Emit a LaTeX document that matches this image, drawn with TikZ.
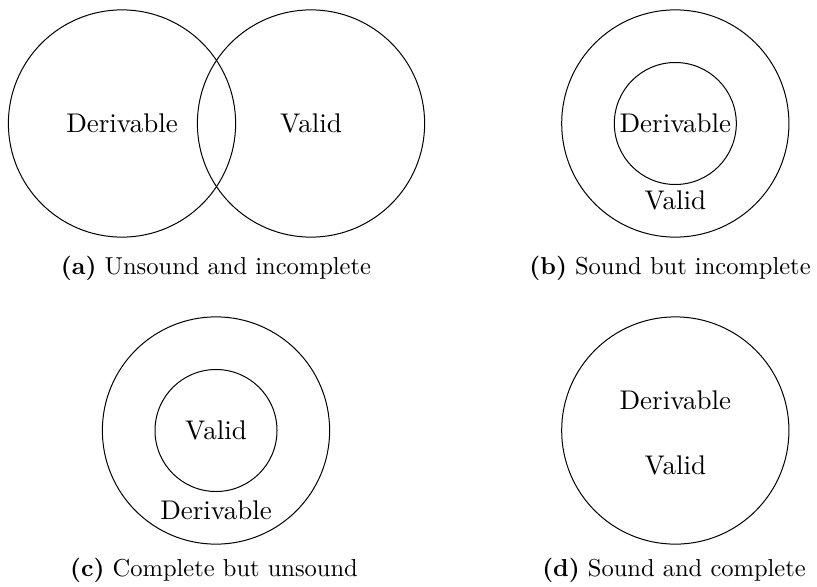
\documentclass[tikz,border=0pt]{standalone}

\begin{document}
\begin{tikzpicture}[x=0.4pt,y=-0.4pt,
  every node/.style={font=\fontsize{10.8}{13}\selectfont},
  outer/.style={draw, circle, inner sep=0pt, minimum size=90.9pt},
  inner/.style={draw, circle, inner sep=0pt, minimum size=48.8pt},
  caption/.style={font=\fontsize{9.8}{12}\selectfont}]

  \useasboundingbox (0,0) rectangle (817,586);

  % (a) two overlapping sets
  \node[outer] (derA) at (122,123.5) {Derivable};
  \node[outer] (valA) at (311,123.5) {Valid};
  \node[caption] (capA) at (216,268) {\textbf{(a)} Unsound and incomplete};

  % (b) derivable inside valid
  \node[outer] (valB) at (675.3,123.5) {};
  \node[inner] (derB) at (675.3,123.5) {Derivable};
  \node (labB) at (675.3,200) {Valid};
  \node[caption] (capB) at (670,268) {\textbf{(b)} Sound but incomplete};

  % (c) valid inside derivable
  \node[outer] (derC) at (216,430.5) {};
  \node[inner] (valC) at (216,430.5) {Valid};
  \node (labC) at (216,510) {Derivable};
  \node[caption] (capC) at (214,570) {\textbf{(c)} Complete but unsound};

  % (d) one set
  \node[outer] (setD) at (675.3,430.5) {};
  \node (derD) at (675.3,400) {Derivable};
  \node (valD) at (675.3,465) {Valid};
  \node[caption] (capD) at (674,570) {\textbf{(d)} Sound and complete};

\end{tikzpicture}
\end{document}
